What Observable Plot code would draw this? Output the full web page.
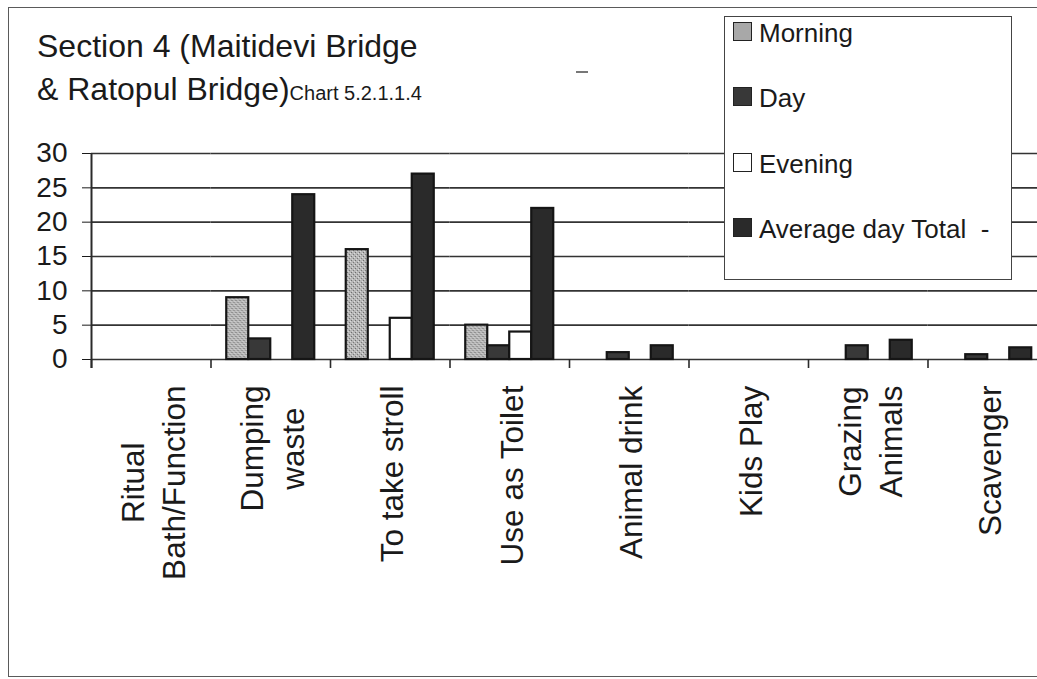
<!DOCTYPE html>
<html><head><meta charset="utf-8">
<script src="https://cdn.jsdelivr.net/npm/d3@7"></script>
<script src="https://cdn.jsdelivr.net/npm/@observablehq/plot@0.6"></script>
<style>
html,body{margin:0;padding:0;background:#fff;overflow:hidden;}
#wrap{position:relative;width:1037px;height:679px;overflow:hidden;font-family:"Liberation Sans",Arial,sans-serif;color:#1a1a1a;}
#chart svg{display:block;max-width:none;}
#border{position:absolute;left:8px;top:7px;width:1100px;height:668px;border:1.5px solid #5a5a5a;pointer-events:none;}
#title{position:absolute;left:37px;top:25px;font-size:32px;line-height:43px;white-space:nowrap;}
#title .small{font-size:20px;}
#dash{position:absolute;left:576px;top:71px;width:12px;height:2px;background:#777;}
#legend{position:absolute;left:724px;top:16px;width:286px;height:262px;border:1.5px solid #444;background:#fff;}
#legend .item{position:absolute;left:8px;height:26px;white-space:nowrap;font-size:26px;line-height:26px;}
#legend .sw{position:absolute;left:0;top:2px;width:17px;height:17px;border:1.5px solid #222;}
#legend .lb{position:absolute;left:26px;top:0;}
</style></head><body>
<svg width="0" height="0" style="position:absolute">
  <defs>
    <pattern id="stipple" width="4" height="4" patternUnits="userSpaceOnUse">
      <rect width="4" height="4" fill="#b6b6b6"></rect>
      <rect x="0" y="0" width="1" height="1" fill="#6e6e6e"></rect>
      <rect x="2" y="2" width="1" height="1" fill="#7a7a7a"></rect>
      <rect x="3" y="1" width="1" height="1" fill="#dcdcdc"></rect>
      <rect x="1" y="3" width="1" height="1" fill="#d6d6d6"></rect>
    </pattern>
  </defs>
</svg>
<div id="wrap">
  <div id="chart"></div>
  <div id="border"></div>
  <div id="title">Section 4 (Maitidevi Bridge<br>&amp; Ratopul Bridge)<span class="small">Chart 5.2.1.1.4</span></div>
  <div id="dash"></div>
  <div id="legend"></div>
</div>
<script>
// ---- data ----
const categories = ["Ritual\nBath/Function", "Dumping\nwaste", "To take stroll", "Use as Toilet", "Animal drink", "Kids Play", "Grazing\nAnimals", "Scavenger"];
const seriesNames = ["Morning", "Day", "Evening", "Average day Total"];
const morning = [0, 9, 16, 5, 0, 0, 0, 0];
const day     = [0, 3, 0, 2, 1, 0, 2, 0.7];
const evening = [0, 0, 6, 4, 0, 0, 0, 0];
const average = [0, 24, 27, 22, 2, 0, 2.8, 1.7];
const yTicks = [0, 5, 10, 15, 20, 25, 30];
const legendSuffix = ["", "", "", "  -"];

// ---- styles ----
const seriesFill = ["url(#stipple)", "#383838", "#ffffff", "#2a2a2a"];
const legendFill = ["#a8a8a8", "#383838", "#ffffff", "#2a2a2a"];
const plotLeft = 91, plotRight = 1047, plotTop = 153, plotBottom = 359;
const W = 1037, H = 679;
const bw = (plotRight - plotLeft) / categories.length;

const seriesValues = [morning, day, evening, average];
const rows = categories.flatMap((cat, i) => seriesNames.map((s, j) => ({cat, series: s, value: seriesValues[j][i]})));

const svg = Plot.plot({
  width: W, height: H,
  marginLeft: plotLeft, marginRight: W - plotRight, marginTop: plotTop, marginBottom: H - plotBottom,
  style: {fontFamily: "'Liberation Sans', Arial, sans-serif", fontSize: "28px", color: "#1a1a1a", background: "transparent", overflow: "hidden"},
  facet: {data: rows, x: "cat"},
  fx: {domain: categories, padding: 0, axis: null, round: false, label: null},
  x: {domain: seriesNames, paddingInner: 0, paddingOuter: 0.716, axis: null, round: false},
  y: {domain: [0, 30], ticks: yTicks, tickSize: 9, tickPadding: 15, label: null},
  color: {domain: seriesNames, range: seriesFill},
  marks: [
    Plot.ruleY(yTicks, {stroke: "#333", strokeWidth: 1.6}),
    Plot.ruleX([0], {x: null, y1: 0, y2: 0, insetBottom: -9, dx: -bw / 2, stroke: "#2a2a2a", strokeWidth: 1.6}),
    Plot.ruleX(rows, {filter: d => d === rows[0], x: null, y1: 30, y2: 0, insetBottom: -9, dx: -bw / 2, stroke: "#2a2a2a", strokeWidth: 2}),
    Plot.barY(rows, {filter: d => d.value > 0, x: "series", y: "value", fill: "series", stroke: "#151515", strokeWidth: 2.2}),
    Plot.text(rows, {filter: d => d.series === seriesNames[0], text: "cat", y: () => 0, rotate: -90,
      textAnchor: "middle", lineAnchor: "middle", lineHeight: 1.3, fontSize: 31.5, fill: "#1a1a1a"})
  ]
});
document.getElementById("chart").append(svg);

// place each rotated category label so its top sits just below the axis (lines centred on one another)
const labelGap = 26;
svg.querySelectorAll('g[aria-label="text"] text').forEach(t => {
  const L = t.getBBox().width;
  t.setAttribute("transform", (t.getAttribute("transform") || "") + ` translate(${-(labelGap + L / 2)},0)`);
});

// legend
const legend = document.getElementById("legend");
const legendTops = [3, 68, 134, 199];
seriesNames.forEach((s, i) => {
  const item = document.createElement("div");
  item.className = "item";
  item.style.top = legendTops[i] + "px";
  item.innerHTML = `<div class="sw" style="background:${legendFill[i]}"></div><div class="lb">${s}${legendSuffix[i].replace(/ /g, "&nbsp;")}</div>`;
  legend.append(item);
});
</script>
</body></html>
